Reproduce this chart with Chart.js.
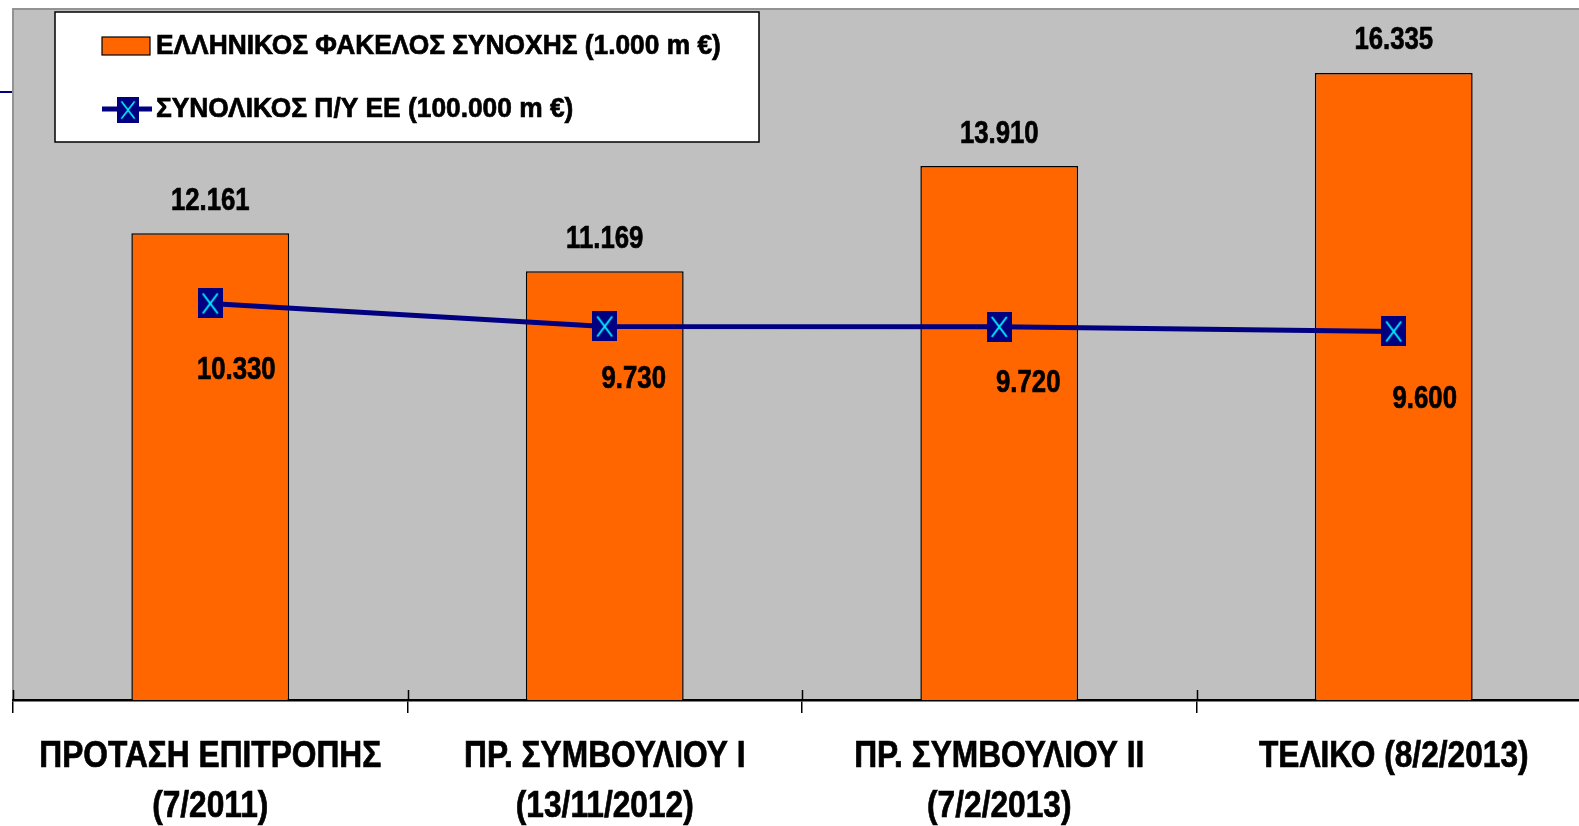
<!DOCTYPE html>
<html>
<head>
<meta charset="utf-8">
<script src="https://cdn.jsdelivr.net/npm/chart.js@4.4.1/dist/chart.umd.min.js"></script>
<style>
  html, body { margin: 0; padding: 0; background: #fff; overflow: hidden; }
  #wrap { width: 1600px; height: 826px; position: relative; }
</style>
</head>
<body>
<div id="wrap"><canvas id="chart"></canvas></div>
<script>
const categories = [
  ["ΠΡΟΤΑΣΗ ΕΠΙΤΡΟΠΗΣ", "(7/2011)"],
  ["ΠΡ. ΣΥΜΒΟΥΛΙΟΥ Ι", "(13/11/2012)"],
  ["ΠΡ. ΣΥΜΒΟΥΛΙΟΥ ΙΙ", "(7/2/2013)"],
  ["ΤΕΛΙΚΟ (8/2/2013)"],
];
const cohesionValues = [12161, 11169, 13910, 16335];
const budgetValues = [10330, 9730, 9720, 9600];
const seriesNames = [
  "ΕΛΛΗΝΙΚΟΣ ΦΑΚΕΛΟΣ ΣΥΝΟΧΗΣ (1.000 m €)",
  "ΣΥΝΟΛΙΚΟΣ Π/Υ ΕΕ (100.000 m €)",
];
const yMax = 18000;

const ORANGE = "#FF6600";
const NAVY = "#000080";
const FONT = '"Liberation Sans", Arial, sans-serif';

// gr number format: 12161 -> 12.161
const fmt = (v) => String(v).replace(/\B(?=(\d{3})+(?!\d))/g, ".");

// no narrow font installed, so squeeze the text horizontally (and thicken a bit)
const squeezeText = (ctx, text, x, y, sx) => {
  ctx.save();
  ctx.translate(x, y);
  ctx.scale(sx, 1);
  ctx.fillText(text, 0, 0);
  ctx.strokeStyle = ctx.fillStyle;
  ctx.lineWidth = 0.7;
  ctx.strokeText(text, 0, 0);
  ctx.restore();
};

// square marker with cyan X
const makeMarker = () => {
  const c = document.createElement("canvas");
  c.width = 25;
  c.height = 30;
  const g = c.getContext("2d");
  g.fillStyle = NAVY;
  g.fillRect(0, 0, 25, 30);
  g.strokeStyle = "#00F0FF";
  g.lineWidth = 2;
  g.beginPath();
  g.moveTo(5, 5);
  g.lineTo(20, 25);
  g.moveTo(20, 5);
  g.lineTo(5, 25);
  g.stroke();
  return c;
};
const marker = makeMarker();

const plotBack = {
  id: "plotBack",
  beforeDraw(chart) {
    const { ctx, chartArea: { left, top, right, bottom } } = chart;
    ctx.save();
    ctx.fillStyle = "#C0C0C0";
    ctx.fillRect(left, top, right - left, bottom - top);
    ctx.strokeStyle = "#939393";
    ctx.lineWidth = 2;
    ctx.beginPath();
    ctx.moveTo(left, bottom);
    ctx.lineTo(left, top);
    ctx.lineTo(right, top);
    ctx.stroke();
    // little stray line at the far left
    ctx.strokeStyle = NAVY;
    ctx.lineWidth = 2;
    ctx.beginPath();
    ctx.moveTo(0, 92);
    ctx.lineTo(left - 1, 92);
    ctx.stroke();
    ctx.restore();
  },
};

// label offsets from the line points
const lineLabelDx = [26, 29, 29, 31];
const lineLabelDy = [67, 53, 57, 68];

const valueLabels = {
  id: "valueLabels",
  afterDatasetsDraw(chart) {
    const { ctx } = chart;
    ctx.save();
    ctx.fillStyle = "#000";
    ctx.font = `bold 31px ${FONT}`;
    ctx.textAlign = "center";
    ctx.textBaseline = "middle";
    chart.getDatasetMeta(0).data.forEach((bar, i) => {
      squeezeText(ctx, fmt(cohesionValues[i]), bar.x, bar.y - 32, 0.83);
    });
    chart.getDatasetMeta(1).data.forEach((pt, i) => {
      squeezeText(ctx, fmt(budgetValues[i]), pt.x + lineLabelDx[i], pt.y + lineLabelDy[i], 0.83);
    });
    ctx.restore();
  },
};

// category labels + the short tick bits above the axis
const xLabels = {
  id: "xLabels",
  afterDraw(chart) {
    const { ctx, chartArea: { bottom } } = chart;
    const xs = chart.scales.x;
    ctx.save();
    ctx.strokeStyle = "#000";
    ctx.lineWidth = 1.5;
    for (let i = 0; i <= categories.length; i++) {
      const x = Math.round(xs.getPixelForValue(i - 0.5)) + 0.5;
      ctx.beginPath();
      ctx.moveTo(x, bottom - 10);
      ctx.lineTo(x, bottom);
      ctx.stroke();
    }
    ctx.fillStyle = "#000";
    ctx.font = `bold 36px ${FONT}`;
    ctx.textAlign = "center";
    ctx.textBaseline = "middle";
    categories.forEach((lines, i) => {
      const x = xs.getPixelForValue(i);
      lines.forEach((t, j) => squeezeText(ctx, t, x, bottom + 57 + j * 50, 0.88));
    });
    ctx.restore();
  },
};

const legendBox = {
  id: "legendBox",
  afterDraw(chart) {
    const { ctx } = chart;
    ctx.save();
    ctx.fillStyle = "#fff";
    ctx.fillRect(55, 12, 704, 130);
    ctx.strokeStyle = "#000";
    ctx.lineWidth = 1.5;
    ctx.strokeRect(55, 12, 704, 130);

    ctx.fillStyle = ORANGE;
    ctx.fillRect(102, 37, 48, 18);
    ctx.lineWidth = 1.2;
    ctx.strokeRect(102, 37, 48, 18);

    ctx.strokeStyle = NAVY;
    ctx.lineWidth = 5;
    ctx.beginPath();
    ctx.moveTo(102, 109);
    ctx.lineTo(152, 109);
    ctx.stroke();
    ctx.drawImage(marker, 117, 97, 22, 26);

    ctx.fillStyle = "#000";
    ctx.font = `bold 28px ${FONT}`;
    ctx.textAlign = "left";
    ctx.textBaseline = "middle";
    squeezeText(ctx, seriesNames[0], 156, 46, 0.94);
    squeezeText(ctx, seriesNames[1], 156, 109, 0.94);
    ctx.restore();
  },
};

new Chart(document.getElementById("chart"), {
  type: "bar",
  data: {
    labels: categories,
    datasets: [
      {
        type: "bar",
        label: seriesNames[0],
        data: cohesionValues,
        backgroundColor: ORANGE,
        borderColor: "#000",
        borderWidth: 1.5,
        barPercentage: 0.4,
        categoryPercentage: 1,
        order: 2,
      },
      {
        type: "line",
        label: seriesNames[1],
        data: budgetValues,
        borderColor: NAVY,
        borderWidth: 5,
        pointStyle: marker,
        tension: 0,
        order: 1,
      },
    ],
  },
  options: {
    responsive: true,
    maintainAspectRatio: false,
    animation: false,
    layout: { padding: { left: 13, top: 7, right: 3, bottom: 0 } },
    plugins: {
      legend: { display: false },
      tooltip: { enabled: false },
    },
    scales: {
      x: {
        grid: {
          display: true,
          drawOnChartArea: false,
          drawTicks: true,
          tickLength: 13,
          color: "#000",
          lineWidth: 1.5,
          offset: true,
        },
        border: { display: true, color: "#000", width: 2.5 },
        ticks: { display: false },
        afterFit(scale) {
          scale.height = 126;
        },
      },
      y: {
        display: false,
        min: 0,
        max: yMax,
      },
    },
  },
  plugins: [plotBack, valueLabels, xLabels, legendBox],
});
</script>
</body>
</html>
